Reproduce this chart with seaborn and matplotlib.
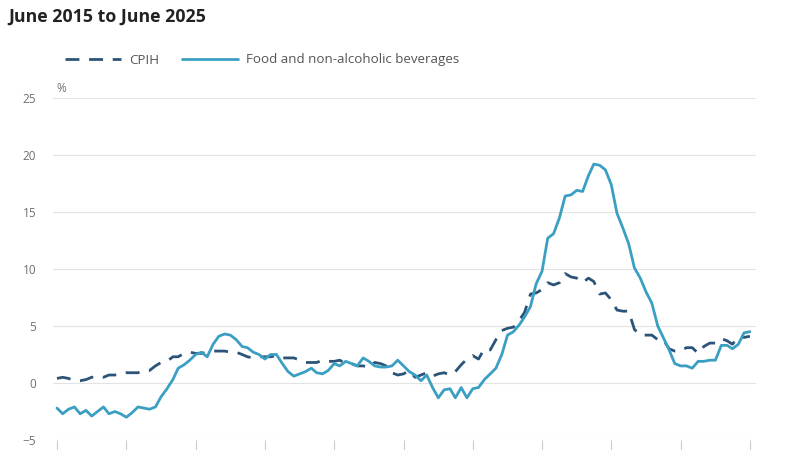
import seaborn as sns
import numpy as np
import pandas as pd
import matplotlib.pyplot as plt
import matplotlib.dates as mdates

# Monthly annual rates (%), June 2015 to June 2025
months = pd.date_range('2015-06-01', '2025-06-01', freq='MS')

cpih = [
    0.4, 0.5, 0.4, 0.2, 0.2, 0.3, 0.5, 0.6, 0.5, 0.7, 0.7, 0.8,   # Jun15-May16
    0.9, 0.9, 0.9, 1.1, 1.1, 1.5, 1.8,                            # Jun16-Dec16
    1.9, 2.3, 2.3, 2.6, 2.7, 2.6, 2.6, 2.7, 2.8, 2.8, 2.8, 2.7,   # 2017
    2.7, 2.5, 2.3, 2.2, 2.3, 2.3, 2.3, 2.4, 2.2, 2.2, 2.2, 2.0,   # 2018
    1.8, 1.8, 1.8, 2.0, 1.9, 1.9, 2.0, 1.7, 1.7, 1.5, 1.5, 1.4,   # 2019
    1.8, 1.7, 1.5, 0.9, 0.7, 0.8, 1.1, 0.5, 0.7, 0.9, 0.6, 0.8,   # 2020
    0.9, 0.7, 1.0, 1.6, 2.1, 2.4, 2.1, 3.0, 2.9, 3.8, 4.6, 4.8,   # 2021
    4.9, 5.5, 6.2, 7.8, 7.9, 8.2, 8.8, 8.6, 8.8, 9.6, 9.3, 9.2,   # 2022
    8.8, 9.2, 8.9, 7.8, 7.9, 7.3, 6.4, 6.3, 6.3, 4.7, 4.2, 4.2,   # 2023
    4.2, 3.8, 3.8, 3.0, 2.8, 2.8, 3.1, 3.1, 2.6, 3.2, 3.5, 3.5,   # 2024
    3.9, 3.7, 3.4, 4.1, 4.0, 4.1,                                 # 2025
]

food = [
    -2.2, -2.7, -2.3, -2.1, -2.7, -2.4, -2.9, -2.5, -2.1, -2.7, -2.5, -2.7,
    -3.0, -2.6, -2.1, -2.2, -2.3, -2.1, -1.2,
    -0.5, 0.3, 1.3, 1.6, 2.0, 2.5, 2.7, 2.3, 3.4, 4.1, 4.3, 4.2,
    3.8, 3.2, 3.1, 2.7, 2.5, 2.1, 2.5, 2.5, 1.7, 1.0, 0.6, 0.8,
    1.0, 1.3, 0.9, 0.8, 1.1, 1.7, 1.5, 1.9, 1.7, 1.5, 2.2, 1.9,
    1.5, 1.4, 1.4, 1.5, 2.0, 1.5, 1.0, 0.7, 0.2, 0.7, -0.4, -1.3,
    -0.6, -0.5, -1.3, -0.4, -1.3, -0.5, -0.4, 0.3, 0.8, 1.3, 2.5, 4.2,
    4.5, 5.1, 5.8, 6.7, 8.7, 9.8, 12.7, 13.1, 14.5, 16.4, 16.5, 16.9,
    16.8, 18.2, 19.2, 19.1, 18.7, 17.4, 14.9, 13.6, 12.2, 10.1, 9.2, 8.0,
    7.0, 5.0, 4.0, 2.9, 1.7, 1.5, 1.5, 1.3, 1.9, 1.9, 2.0, 2.0,
    3.3, 3.3, 3.0, 3.4, 4.4, 4.5,
]

series_names = ['CPIH', 'Food and non-alcoholic beverages']
dark_blue = '#2b5478'
light_blue = '#3a9fc2'

df = pd.DataFrame({'month': months, 'CPIH': cpih, 'Food': food})

sns.set_style('white')
plt.rcParams['font.family'] = ['Open Sans', 'DejaVu Sans']

fig = plt.figure(figsize=(8, 4.5), dpi=100)
ax = fig.add_axes([53 / 800, 10 / 450, 703 / 800, 342 / 450])

sns.lineplot(data=df, x='month', y='CPIH', ax=ax, color=dark_blue,
             linewidth=2.0, label=series_names[0])
sns.lineplot(data=df, x='month', y='Food', ax=ax, color=light_blue,
             linewidth=2.0, label=series_names[1])
ax.lines[0].set_dashes((5, 3.5))

ax.set_ylim(-5, 25)
ax.set_yticks([-5, 0, 5, 10, 15, 20, 25])
ax.set_xlim(pd.Timestamp('2015-05-11'), pd.Timestamp('2025-07-03'))
ax.xaxis.set_major_locator(mdates.MonthLocator(bymonth=6, bymonthday=1))
ax.grid(axis='y', color='#e3e3e3', linewidth=0.8)
ax.grid(axis='x', visible=False)
for s in ax.spines.values():
    s.set_visible(False)
ax.tick_params(axis='x', direction='out', length=10, color='#cccccc',
               labelbottom=False, bottom=True)
ax.tick_params(axis='y', length=0, pad=12, labelsize=8.5, labelcolor='#707070')
ax.set_xlabel('')
ax.set_ylabel('')
ax.legend_.remove()

fig.text(56 / 800, 1 - 88 / 450, '%', fontsize=8.5, color='#707070', va='center')
fig.text(8 / 800, 1 - 17 / 450, 'June 2015 to June 2025', fontsize=12.8,
         fontweight='bold', color='#222222', va='center')

handles, labels = ax.get_legend_handles_labels()
fig.legend(handles, labels, loc='center left', bbox_to_anchor=(65 / 800, 1 - 60 / 450),
           ncol=2, frameon=False, fontsize=9.6, labelcolor='#555555',
           handlelength=4.2, handletextpad=0.6, columnspacing=1.7,
           borderpad=0, borderaxespad=0)

fig.savefig('out.png', dpi=100)
